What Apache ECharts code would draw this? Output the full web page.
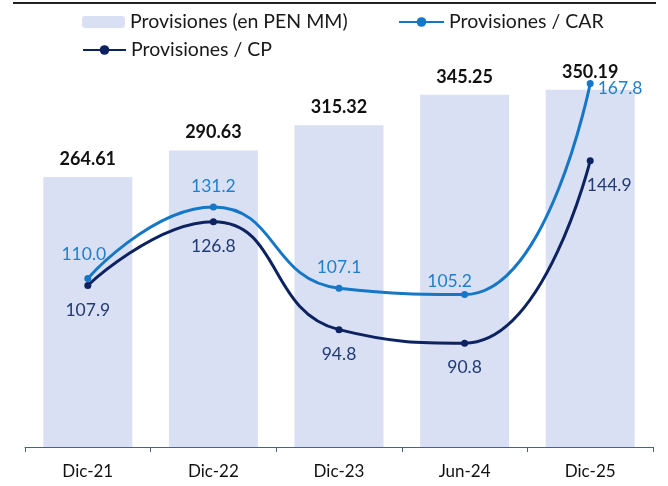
<!DOCTYPE html>
<html>
<head>
<meta charset="utf-8">
<script src="https://cdn.jsdelivr.net/npm/echarts@6/dist/echarts.min.js"></script>
<style>
  html, body { margin: 0; padding: 0; background: #fff; }
  #chart { width: 668px; height: 486px; }
</style>
</head>
<body>
<div id="chart"></div>
<script>
var categories = ['Dic-21', 'Dic-22', 'Dic-23', 'Jun-24', 'Dic-25'];
var provisiones = [264.61, 290.63, 315.32, 345.25, 350.19];
var provCar = [110.0, 131.2, 107.1, 105.2, 167.8];
var provCp = [107.9, 126.8, 94.8, 90.8, 144.9];

var FONT = 'Lato';
var chart = echarts.init(document.getElementById('chart'));

// a few labels are nudged so they don't sit on the lines
var carData = provCar.map(function (v, i) {
    if (i === provCar.length - 1) {
        return { value: v, label: { position: 'right', distance: 4, offset: [0, 5] } };
    }
    if (i === 3) {
        return { value: v, label: { offset: [-15, 7] } };
    }
    if (i === 0) {
        return { value: v, label: { offset: [-4, -4] } };
    }
    return v;
});
var cpData = provCp.map(function (v, i) {
    if (i === provCp.length - 1) {
        return { value: v, label: { position: 'bottom', offset: [19, 0] } };
    }
    return v;
});

var legendText = { fontFamily: FONT, fontSize: 19.5, color: '#1a1a1a' };

var option = {
    animation: false,
    textStyle: { fontFamily: FONT },
    grid: { left: 25, right: 15, top: 39, bottom: 39, containLabel: false },
    legend: [
        {
            left: 77, top: 7, itemWidth: 43, itemHeight: 12,
            data: ['Provisiones (en PEN MM)'],
            textStyle: legendText
        },
        {
            left: 393, top: 7, itemWidth: 45, itemHeight: 12,
            data: ['Provisiones / CAR'],
            textStyle: legendText
        },
        {
            left: 77, top: 35, itemWidth: 43, itemHeight: 12,
            data: ['Provisiones / CP'],
            textStyle: legendText
        }
    ],
    graphic: [{
        type: 'line', shape: { x1: 13, y1: 3, x2: 656, y2: 3 },
        style: { stroke: '#222', lineWidth: 2 }
    }],
    xAxis: {
        type: 'category',
        data: categories,
        axisLine: { lineStyle: { color: '#46618c', width: 1 } },
        axisTick: { show: true, length: 5, lineStyle: { color: '#46618c' } },
        axisLabel: { fontFamily: FONT, fontSize: 17, color: '#111', margin: 16 }
    },
    yAxis: [
        { type: 'value', min: 0, max: 400, show: false, splitLine: { show: false } },
        { type: 'value', min: 60, max: 181, show: false, splitLine: { show: false } }
    ],
    series: [
        {
            name: 'Provisiones (en PEN MM)',
            type: 'bar',
            data: provisiones,
            barWidth: 89,
            itemStyle: { color: '#dae0f3' },
            label: {
                show: true, position: 'top', distance: 9,
                fontFamily: FONT, fontSize: 18, fontWeight: 'bold', color: '#111',
                formatter: function (p) { return p.value.toFixed(2); }
            }
        },
        {
            name: 'Provisiones / CAR',
            type: 'line',
            yAxisIndex: 1,
            data: carData,
            smooth: 0.5,
            symbol: 'circle', symbolSize: 7,
            lineStyle: { color: '#1577c6', width: 3 },
            itemStyle: { color: '#1577c6' },
            label: {
                show: true, position: 'top', distance: 8,
                fontFamily: FONT, fontSize: 17.5, color: '#1f7fcc',
                formatter: function (p) { return p.value.toFixed(1); }
            }
        },
        {
            name: 'Provisiones / CP',
            type: 'line',
            yAxisIndex: 1,
            data: cpData,
            smooth: 0.5,
            symbol: 'circle', symbolSize: 7,
            lineStyle: { color: '#0c2261', width: 3 },
            itemStyle: { color: '#0c2261' },
            label: {
                show: true, position: 'bottom', distance: 12,
                fontFamily: FONT, fontSize: 17.5, color: '#203a75',
                formatter: function (p) { return p.value.toFixed(1); }
            }
        }
    ]
};

chart.setOption(option);
</script>
</body>
</html>
